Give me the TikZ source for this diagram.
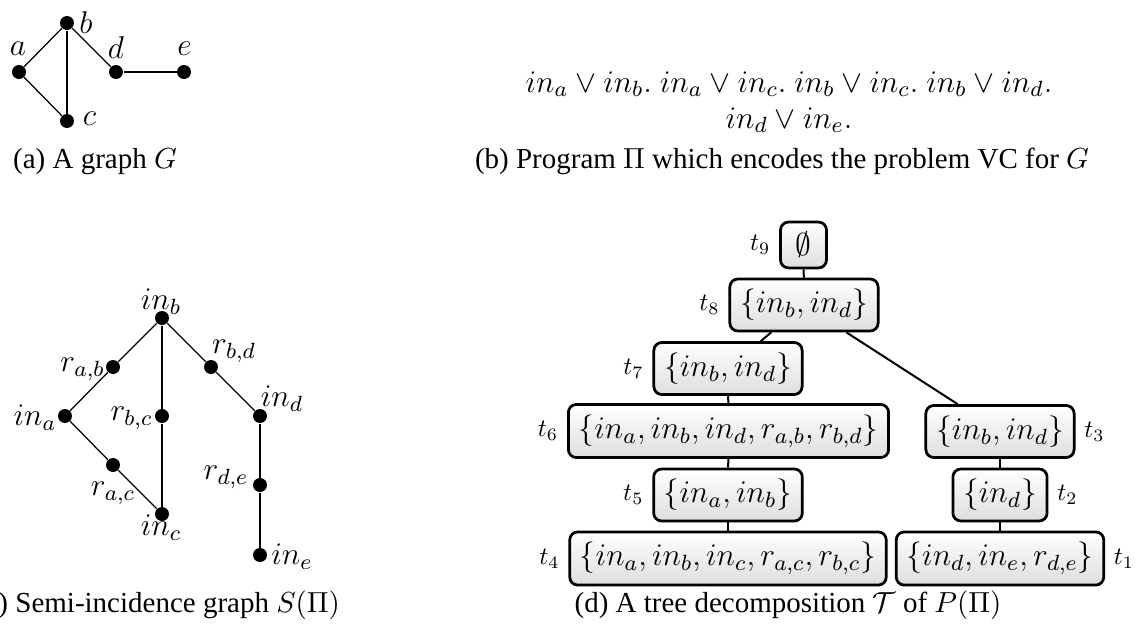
\RequirePackage{fix-cm}
\documentclass[tikz,border=0pt]{standalone}
\usepackage{amsmath,amssymb}
\usepackage[no-math]{fontspec}
\setmainfont{Liberation Serif}
\usepackage{tikz}
\usetikzlibrary{positioning}

\begin{document}
\begin{tikzpicture}[x=0.4pt, y=-0.4pt,
  font=\fontsize{12.6}{15}\selectfont,
  vertex/.style={circle, fill, inner sep=0pt, minimum size=5.6pt},
  link/.style={draw, line width=0.5pt},
  bag/.style={rectangle, draw, line width=1.1pt, rounded corners=3.2pt, top color=white, bottom color=black!13, inner sep=4.1pt},
  branch/.style={draw, line width=0.8pt},
  every label/.style={font=\fontsize{10}{12}\selectfont},
  subcap/.style={font=\fontsize{11.6}{14}\selectfont, anchor=base}]

  \useasboundingbox (0,0) rectangle (1136,634);

  \node [vertex] (a) at (19,72) {};
  \node [vertex] (b) at (67,23) {};
  \node [vertex] (c) at (67,121) {};
  \node [vertex] (d) at (116,72) {};
  \node [vertex] (e) at (184,72) {};
  \node (la) at (18,48.5) {$a$};
  \node (lb) at (86,22.5) {$b$};
  \node (lc) at (89.5,118.5) {$c$};
  \node (ld) at (116,47.5) {$d$};
  \node (le) at (184.5,48.5) {$e$};

  \draw [link] (a) -- (b);
  \draw [link] (a) -- (c);
  \draw [link] (b) -- (c);
  \draw [link] (b) -- (d);
  \draw [link] (d) -- (e);

  \node [anchor=base] (rules) at (789,92) {$in_a \vee in_b.\ in_a \vee in_c.\ in_b \vee in_c.\ in_b \vee in_d.$};
  \node [anchor=base] (rulee) at (789,128) {$in_d \vee in_e.$};

  \node [vertex] (inb) at (162,318) {};
  \node [vertex] (rab) at (113,367) {};
  \node [vertex] (rbd) at (211,367) {};
  \node [vertex] (ina) at (65,416) {};
  \node [vertex] (rbc) at (162,416) {};
  \node [vertex] (ind) at (260,416) {};
  \node [vertex] (rac) at (113,465) {};
  \node [vertex] (inc) at (162,514) {};
  \node [vertex] (rde) at (260,485) {};
  \node [vertex] (ine) at (260,555) {};
  \node (linb) at (161,302) {$in_b$};
  \node (lrab) at (82.5,369) {$r_{a,b}$};
  \node (lrbd) at (234,351) {$r_{b,d}$};
  \node (lina) at (35,418) {$in_a$};
  \node (lrbc) at (131.5,418) {$r_{b,c}$};
  \node (lind) at (282,399) {$in_d$};
  \node (lrac) at (113,493) {$r_{a,c}$};
  \node (linc) at (161,528) {$in_c$};
  \node (lrde) at (226,477) {$r_{d,e}$};
  \node (line) at (292,557) {$in_e$};

  \draw [link] (ina) -- (rab) -- (inb);
  \draw [link] (inb) -- (rbc) -- (inc);
  \draw [link] (inb) -- (rbd) -- (ind);
  \draw [link] (ina) -- (rac) -- (inc);
  \draw [link] (ind) -- (rde) -- (ine);

  \node [bag, minimum width=18.4pt, label=left:$t_9$] (t9) at (803.5,245) {$\emptyset$};
  \node [bag, label=left:$t_8$] (t8) at (804,305) {$\{in_b, in_d\}$};
  \node [bag, label=left:$t_7$] (t7) at (728,368.5) {$\{in_b, in_d\}$};
  \node [bag, label=left:$t_6$] (t6) at (728.5,431) {$\{in_a, in_b, in_d, r_{a,b}, r_{b,d}\}$};
  \node [bag, label=left:$t_5$] (t5) at (728,495) {$\{in_a, in_b\}$};
  \node [bag, label=left:$t_4$] (t4) at (728,558.5) {$\{in_a, in_b, in_c, r_{a,c}, r_{b,c}\}$};
  \node [bag, label=right:$t_3$] (t3) at (1000,431.5) {$\{in_b, in_d\}$};
  \node [bag, label=right:$t_2$] (t2) at (1000,495) {$\{in_d\}$};
  \node [bag, label=right:$t_1$] (t1) at (1000,558.5) {$\{in_d, in_e, r_{d,e}\}$};

  \draw [branch] (t9) -- (t8);
  \draw [branch] (t8) -- (t7);
  \draw [branch] (t7) -- (t6);
  \draw [branch] (t6) -- (t5);
  \draw [branch] (t5) -- (t4);
  \draw [branch] (t8) -- (t3);
  \draw [branch] (t3) -- (t2);
  \draw [branch] (t2) -- (t1);

  \node [subcap] (capa) at (95,168) {(a) A graph $G$};
  \node [subcap] (capb) at (782,168) {(b) Program $\Pi$ which encodes the problem VC for $G$};
  \node [subcap] (capc) at (158,612) {(c) Semi-incidence graph $S(\Pi)$};
  \node [subcap] (capd) at (788,612) {(d) A tree decomposition $\mathcal{T}$ of $P(\Pi)$};
\end{tikzpicture}
\end{document}
